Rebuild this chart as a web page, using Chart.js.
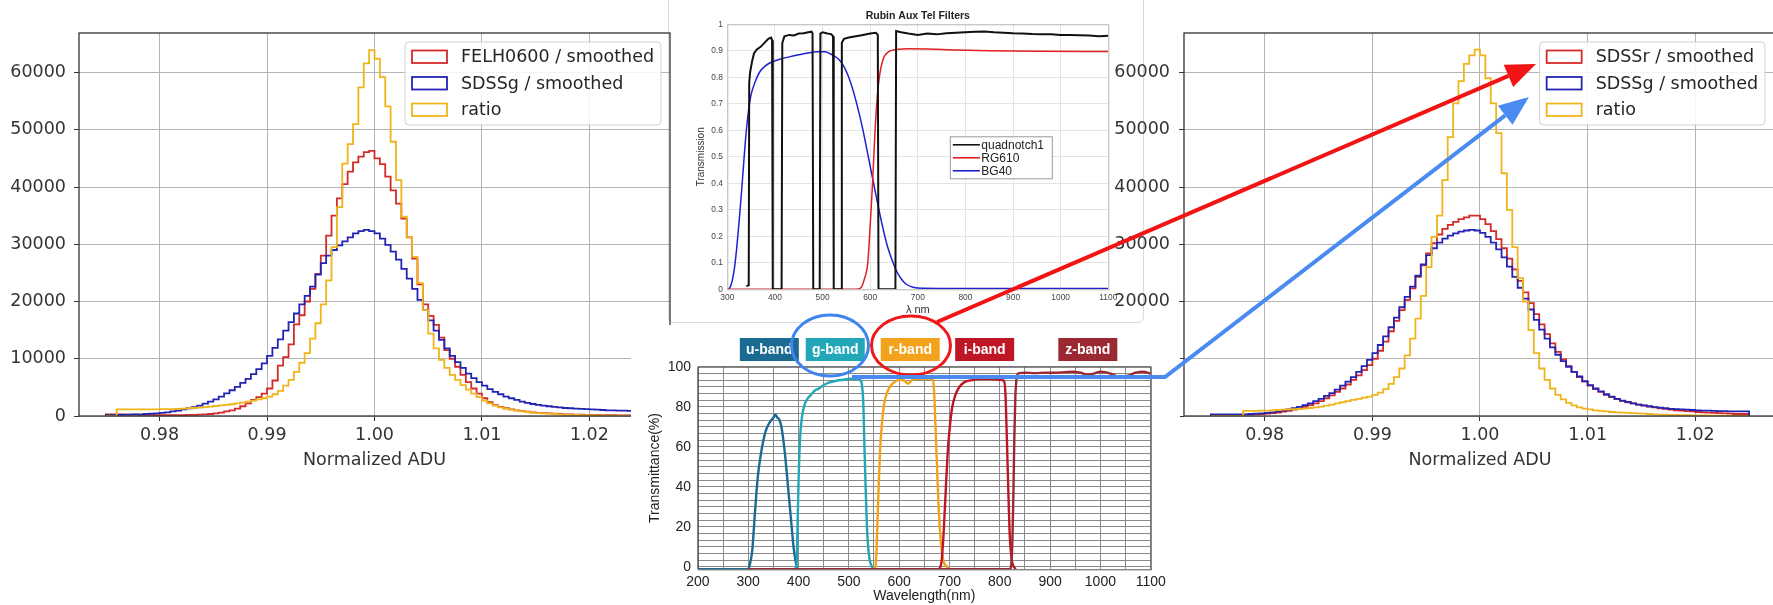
<!DOCTYPE html>
<html>
<head>
<meta charset="utf-8">
<script src="https://cdn.jsdelivr.net/npm/chart.js@4.4.1/dist/chart.umd.min.js"></script>
<style>
  html, body { margin: 0; padding: 0; background: #fff; }
  body { position: relative; width: 1773px; height: 605px; overflow: hidden; }
  .panel { position: absolute; }
  canvas { display: block; }
</style>
</head>
<body>
<div class="panel" id="pTop" style="left:668px;top:-8px;width:474px;height:329px;background:#fff;border:1px solid #dadada;border-radius:6px;z-index:1"><canvas id="cTop" width="474" height="329"></canvas></div>
<div class="panel" style="left:0;top:0;width:680px;height:480px;z-index:2"><canvas id="cLeft" width="680" height="480"></canvas></div>
<div class="panel" style="left:1100px;top:0;width:690px;height:480px;z-index:3"><canvas id="cRight" width="690" height="480"></canvas></div>
<div class="panel" style="left:631px;top:325px;width:549px;height:280px;background:#fff;z-index:4"><canvas id="cBottom" width="549" height="280"></canvas></div>
<svg class="panel" id="marks" style="left:0;top:0;z-index:5" width="1773" height="605"></svg>

<script>
// ---------------- histogram data (counts per bin) ----------------
const binStart = 0.975;
const binWidth = 0.0005;
const histTicksX = [0.98, 0.99, 1.00, 1.01, 1.02];
const histTicksY = [0, 10000, 20000, 30000, 40000, 50000, 60000];

// left panel
const felhCounts = [
  300,300,300,300,250,250,250,200,200,200,
  150,150,150,150,150,150,200,200,250,300,
  350,450,600,800,1000,1300,1700,2200,2800,3300,
  3900,4800,6200,8800,10300,12500,16000,17600,20000,22200,
  24800,28000,31500,35000,38000,40500,42700,44300,45300,46100,
  46300,45000,44000,41800,39400,37100,34500,31200,27500,23000,
  19500,17500,15900,13700,11500,10000,8600,7200,5900,4800,
  3900,3100,2400,1900,1600,1350,1150,1000,850,750,
  650,550,500,450,400,350,300,300,250,250,
  200,200,200,150,150,150,100,100,100,100
];
const sdssgCountsA = [
  150,150,200,200,250,250,300,300,350,400,
  450,550,650,800,950,1150,1350,1550,1800,2150,
  2500,2900,3400,3950,4500,5100,5800,6500,7300,8200,
  9200,10500,11900,13400,14900,16400,17900,19500,21000,22600,
  24700,26700,28000,29000,29800,30500,31200,31900,32300,32500,
  32300,31900,31000,29900,28700,27300,25700,24000,22200,20300,
  18500,16700,14900,13300,11800,10500,9400,8400,7400,6600,
  5900,5300,4700,4200,3800,3400,3100,2800,2500,2300,
  2100,1950,1800,1700,1600,1500,1400,1350,1300,1250,
  1200,1150,1100,1050,1000,1000,950,950,900,900
];
const ratioCountsA = [
  0,0,0,1150,1150,1150,1150,1150,1150,1150,
  1150,1200,1200,1200,1250,1300,1350,1400,1450,1550,
  1650,1750,1850,1950,2050,2200,2350,2500,2700,2900,
  3100,3400,3800,4400,5300,6300,7700,9300,11000,13500,
  16200,19500,23700,29500,36500,44100,47500,51000,57400,61600,
  63900,62400,59200,54100,47900,41200,34800,31200,27800,23200,
  18500,14400,11800,9800,8400,7200,6300,5400,4600,3900,
  3300,2700,2200,1800,1500,1300,1100,950,800,700,
  600,500,450,400,350,300,250,200,200,150,
  150,100,100,100,50,50,50,0,0,0
];

// right panel
const sdssrCounts = [
  200,200,200,200,200,200,200,250,250,300,
  350,400,500,600,750,900,1100,1300,1600,1900,
  2200,2600,3100,3600,4200,4800,5500,6300,7100,8000,
  8900,10000,11400,13000,14800,16600,18500,20300,22300,24300,
  26300,28400,30200,31700,32700,33400,33900,34400,34700,35000,
  35000,34400,33500,32300,30900,29300,27500,25600,23600,21600,
  19700,17800,16000,14300,12700,11200,9900,8700,7700,6800,
  6000,5300,4700,4200,3700,3300,2950,2650,2400,2200,
  2000,1800,1650,1500,1350,1250,1100,1000,950,850,
  800,700,650,600,550,500,450,400,350,350
];
const sdssgCountsB = [
  300,300,300,300,300,300,300,300,350,400,
  450,550,650,800,950,1150,1350,1600,1900,2200,
  2600,3000,3500,4000,4600,5300,6000,6800,7700,8700,
  9800,11000,12400,13900,15500,17200,19000,20800,22600,24500,
  26500,28100,29300,30300,31000,31500,31900,32200,32400,32500,
  32400,32000,31300,30300,29100,27700,26100,24300,22400,20500,
  18600,16800,15100,13500,12000,10700,9600,8600,7700,6900,
  6100,5400,4800,4300,3800,3400,3000,2700,2450,2200,
  2000,1850,1700,1550,1450,1350,1250,1200,1150,1100,
  1050,1000,950,950,900,850,850,800,800,800
];
const ratioCountsB = [
  0,0,0,0,0,0,0,900,900,900,
  950,950,1000,1050,1100,1150,1200,1250,1300,1400,
  1500,1650,1800,2000,2200,2400,2600,2800,3000,3200,
  3400,3700,4100,4700,5600,6800,8300,10600,13500,17000,
  21000,26000,31300,35000,41200,48700,54600,58500,61500,63000,
  64000,63000,59000,54600,49400,42400,36000,29500,24100,20000,
  15000,11000,8300,6300,4800,3700,2900,2300,1850,1500,
  1300,1150,1000,900,800,700,650,600,550,500,
  450,400,350,300,250,250,200,200,150,150,
  100,100,100,50,50,50,0,0,0,0
];

// ---------------- Rubin Aux Tel filter curves ----------------
const auxTicksX = [300, 400, 500, 600, 700, 800, 900, 1000, 1100];
const auxTicksY = [0, 0.1, 0.2, 0.3, 0.4, 0.5, 0.6, 0.7, 0.8, 0.9, 1];
const quadnotchNm = [340,345,346,348,352,356,362,370,378,386,392,394,395.5,414,415.5,420,430,440,450,460,470,477,479,480.5,494,495.5,500,510,518,522,523.5,539,540.5,545,555,570,585,600,612,616,617.5,653,654.5,665,680,700,720,740,760,780,800,820,840,860,880,900,920,940,960,980,1000,1020,1040,1060,1080,1100];
const quadnotchT  = [0.012,0.015,0.78,0.82,0.86,0.89,0.905,0.915,0.93,0.945,0.95,0.94,0,0,0.93,0.955,0.96,0.958,0.965,0.966,0.97,0.972,0.965,0,0,0.965,0.97,0.965,0.963,0.955,0,0,0.93,0.945,0.95,0.955,0.96,0.965,0.968,0.96,0,0,0.975,0.97,0.965,0.96,0.965,0.962,0.966,0.968,0.97,0.972,0.973,0.97,0.968,0.966,0.965,0.963,0.962,0.962,0.96,0.96,0.959,0.958,0.955,0.957];
const rg610Nm = [300,570,580,588,595,600,605,610,615,620,625,630,640,655,680,720,780,850,950,1100];
const rg610T  = [0,0,0.005,0.04,0.1,0.24,0.4,0.59,0.73,0.81,0.855,0.88,0.898,0.905,0.908,0.907,0.903,0.9,0.898,0.897];
const bg40Nm = [300,305,310,315,320,325,330,335,340,345,350,358,368,380,390,410,430,450,470,490,505,515,525,535,545,555,565,575,585,595,605,615,625,635,645,655,665,675,690,710,800,1100];
const bg40T  = [0,0.005,0.03,0.08,0.16,0.26,0.37,0.49,0.6,0.68,0.735,0.78,0.82,0.843,0.855,0.868,0.877,0.885,0.892,0.896,0.896,0.89,0.88,0.866,0.84,0.8,0.745,0.677,0.6,0.51,0.42,0.33,0.245,0.17,0.115,0.07,0.04,0.02,0.008,0.004,0.003,0.003];

// ---------------- ugriz band transmittance (%) ----------------
const bandNames = ['u-band', 'g-band', 'r-band', 'i-band', 'z-band'];
const uNm = [200,300,304,308,312,316,320,325,330,335,340,345,350,354,358,362,366,370,374,378,382,386,390,394,398,410];
const uT  = [-1.2,-1.2,2,8,22,36,47,56,63,68,71,73,74.5,76,74.5,73.5,70,63,54,43,32,21,10,3,-1.2,-1.2];
const gNm = [390,396,398,400,403,407,412,418,425,432,440,448,460,475,490,505,515,522,526,529,531,534,537,541,546,552];
const gT  = [-1.2,0,20,42,64,75,81,84,86,88,89,90.5,92,93,93.5,94,94,93.5,91,80,60,35,15,4,0,-1.2];
const rNm = [548,553,556,559,562,566,570,576,583,592,600,610,618,624,632,645,660,667,670,673,676,679,683,688,695,700];
const rT  = [-1.2,0,15,38,58,72,81,87,90.5,92.5,93.5,93,91.5,93,94,94,94,93.5,85,65,45,27,12,3,0,-1.2];
const iNm = [680,684,688,692,696,700,705,712,720,730,745,760,780,800,808,811,814,817,820,824,828,832];
const iT  = [-1.2,2,15,35,55,68,79,86,90,92.3,93.3,93.8,93.8,93.5,93,88,65,38,15,3,0,-1.2];
const zNm = [300,820,824,827,829,831,834,838,850,870,890,910,930,945,960,975,990,1000,1012,1025,1040,1055,1070,1085,1100];
const zT  = [-1.2,-1.2,5,35,65,85,95,96.8,97,96.8,97,97,97.3,97.5,97,96,96.8,97.5,97.2,96,94.8,95.5,97,97.5,96.5];
const bandTicksX = [200, 300, 400, 500, 600, 700, 800, 900, 1000, 1100];
const bandTicksY = [0, 20, 40, 60, 80, 100];

// ---------------- helpers ----------------
function stepPoints(counts) {
  const end = binStart + counts.length * binWidth;
  const pts = [{ x: binStart, y: 0 }];
  counts.forEach((c, i) => pts.push({ x: binStart + i * binWidth, y: c }));
  pts.push({ x: end, y: counts[counts.length - 1] });
  pts.push({ x: end, y: 0 });
  return pts;
}
function pairs(xs, ys) { return xs.map((x, i) => ({ x, y: ys[i] })); }
function fixedTicks(values) { return scale => { scale.ticks = values.map(v => ({ value: v })); }; }
function roundRect(ctx, x, y, w, h, r) {
  ctx.beginPath();
  ctx.moveTo(x + r, y);
  ctx.arcTo(x + w, y, x + w, y + h, r);
  ctx.arcTo(x + w, y + h, x, y + h, r);
  ctx.arcTo(x, y + h, x, y, r);
  ctx.arcTo(x, y, x + w, y, r);
  ctx.closePath();
}

const HIST_FONT = 'DejaVu Sans';
const RED = '#d42a2a', BLUE = '#2424b4', GOLD = '#f0b41c';

// frame + inset legend for the histogram panels
const histDecor = {
  id: 'histDecor',
  afterDatasetsDraw(chart, args, opts) {
    const { ctx, chartArea: a } = chart;
    ctx.save();
    ctx.strokeStyle = '#333';
    ctx.lineWidth = 1.3;
    ctx.strokeRect(a.left, a.top, a.right - a.left, a.bottom - a.top);

    ctx.font = '17.5px "' + HIST_FONT + '"';
    const ds = chart.data.datasets;
    const textW = Math.max(...ds.map(d => ctx.measureText(d.label).width));
    const pad = 7, hl = 35, gap = 14;
    const w = pad + hl + gap + textW + pad;
    const h = 83;
    const x = a.right - opts.rightInset - w;
    const y = a.top + 9;
    roundRect(ctx, x, y, w, h, 4);
    ctx.fillStyle = 'rgba(255,255,255,0.85)';
    ctx.fill();
    ctx.strokeStyle = '#cfcfcf';
    ctx.lineWidth = 1;
    ctx.stroke();
    ds.forEach((d, k) => {
      const cy = y + 14.5 + k * 26.5;
      ctx.strokeStyle = d.borderColor;
      ctx.lineWidth = 1.8;
      ctx.strokeRect(x + pad, cy - 6, hl, 12.5);
      ctx.fillStyle = '#262626';
      ctx.textBaseline = 'middle';
      ctx.textAlign = 'left';
      ctx.fillText(d.label, x + pad + hl + gap, cy + 1);
    });
    ctx.restore();
  }
};

function histChart(id, labels, series, yWidth, padRight, yPad, rightInset) {
  const colors = [RED, BLUE, GOLD];
  return new Chart(document.getElementById(id), {
    type: 'line',
    data: {
      datasets: series.map((s, i) => ({
        label: labels[i],
        data: stepPoints(s),
        stepped: 'after',
        borderColor: colors[i],
        backgroundColor: 'rgba(0,0,0,0)',
        borderWidth: 1.8,
        pointRadius: 0,
        fill: false,
        order: 3 - i
      }))
    },
    options: {
      responsive: false,
      animation: false,
      layout: { padding: { top: 33, right: padRight, left: 0, bottom: 0 } },
      plugins: { legend: { display: false }, tooltip: { enabled: false }, histDecor: { rightInset } },
      scales: {
        x: {
          type: 'linear', min: 0.9725, max: 1.0275,
          afterBuildTicks: fixedTicks(histTicksX),
          afterFit: s => { s.height = 64; },
          grid: { color: '#b4b4b4', lineWidth: 1, tickColor: '#333', tickLength: 5 },
          border: { display: false },
          ticks: { autoSkip: false, maxRotation: 0, padding: 3.5, color: '#333',
                   font: { family: HIST_FONT, size: 17.5 }, callback: v => v.toFixed(2) },
          title: { display: true, text: 'Normalized ADU', color: '#333',
                   font: { family: HIST_FONT, size: 17.5 }, padding: { top: 0, bottom: 9.5 } }
        },
        y: {
          type: 'linear', min: 0, max: 66900,
          afterBuildTicks: fixedTicks(histTicksY),
          afterFit: s => { s.width = yWidth; },
          grid: { color: '#b4b4b4', lineWidth: 1, tickColor: '#333', tickLength: 5 },
          border: { display: false },
          ticks: { padding: yPad, color: '#333', font: { family: HIST_FONT, size: 17.5 },
                   callback: v => String(v) }
        }
      }
    },
    plugins: [histDecor]
  });
}

histChart('cLeft', ['FELH0600 / smoothed', 'SDSSg / smoothed', 'ratio'],
          [felhCounts, sdssgCountsA, ratioCountsA], 79, 10, 8, 9);
histChart('cRight', ['SDSSr / smoothed', 'SDSSg / smoothed', 'ratio'],
          [sdssrCounts, sdssgCountsB, ratioCountsB], 84, 14, 9, 11);

// ---------------- Rubin Aux Tel Filters ----------------
const auxDecor = {
  id: 'auxDecor',
  afterDatasetsDraw(chart) {
    const { ctx, chartArea: a } = chart;
    ctx.save();
    ctx.strokeStyle = '#bdbdbd';
    ctx.lineWidth = 1;
    ctx.strokeRect(a.left + 0.5, a.top + 0.5, a.right - a.left, a.bottom - a.top);
    // legend
    const x = a.left + 222.5, y = a.top + 112, w = 102, h = 42;
    ctx.fillStyle = '#fff';
    ctx.fillRect(x, y, w, h);
    ctx.strokeStyle = '#9a9a9a';
    ctx.strokeRect(x + 0.5, y + 0.5, w, h);
    ctx.font = '12px "Liberation Sans"';
    ctx.textBaseline = 'middle';
    chart.data.datasets.forEach((d, k) => {
      const cy = y + 8.5 + k * 13;
      ctx.strokeStyle = d.borderColor;
      ctx.lineWidth = 1.6;
      ctx.beginPath();
      ctx.moveTo(x + 3, cy); ctx.lineTo(x + 30, cy); ctx.stroke();
      ctx.fillStyle = '#222';
      ctx.fillText(d.label, x + 31.5, cy + 0.5);
    });
    ctx.restore();
  }
};

new Chart(document.getElementById('cTop'), {
  type: 'line',
  data: {
    datasets: [
      { label: 'quadnotch1', data: pairs(quadnotchNm, quadnotchT), borderColor: '#111', borderWidth: 2, pointRadius: 0, tension: 0 },
      { label: 'RG610', data: pairs(rg610Nm, rg610T), borderColor: '#e02020', borderWidth: 1.5, pointRadius: 0, cubicInterpolationMode: 'monotone' },
      { label: 'BG40', data: pairs(bg40Nm, bg40T), borderColor: '#2020d0', borderWidth: 1.5, pointRadius: 0, cubicInterpolationMode: 'monotone' }
    ]
  },
  options: {
    responsive: false,
    animation: false,
    layout: { padding: { top: 0, right: 34.7, left: 0, bottom: 0 } },
    plugins: {
      legend: { display: false }, tooltip: { enabled: false },
      title: { display: true, text: 'Rubin Aux Tel Filters', fullSize: false, color: '#222',
               font: { family: 'Liberation Sans', size: 10.5, weight: 'bold' }, padding: { top: 16.7, bottom: 2 } }
    },
    scales: {
      x: {
        type: 'linear', min: 300, max: 1100,
        afterBuildTicks: fixedTicks(auxTicksX),
        afterFit: s => { s.height = 32.7; },
        grid: { color: '#e4e4e4', drawTicks: false },
        border: { display: false },
        ticks: { autoSkip: false, maxRotation: 0, padding: 3.4, color: '#444', font: { family: 'Liberation Sans', size: 8.4 },
                 callback: v => String(v) },
        title: { display: true, text: 'λ nm', color: '#333', font: { family: 'Liberation Sans', size: 11 }, padding: { top: 0, bottom: 5.4 } }
      },
      y: {
        type: 'linear', min: 0, max: 1,
        afterBuildTicks: fixedTicks(auxTicksY),
        afterFit: s => { s.width = 58.3; },
        grid: { color: '#e4e4e4', drawTicks: false },
        border: { display: false },
        ticks: { padding: 4.3, color: '#444', font: { family: 'Liberation Sans', size: 8.4 }, callback: v => String(Math.round(v * 10) / 10) },
        title: { display: true, text: 'Transmission', color: '#333', font: { family: 'Liberation Sans', size: 10 }, padding: { top: 26.7, bottom: 0 } }
      }
    }
  },
  plugins: [auxDecor]
});

// ---------------- ugriz transmittance ----------------
const bandColors = ['#1b6a92', '#22a7b8', '#f3a21c', '#bf1626', '#9c2831'];
const bandLabelCenters = [342, 473, 622, 770, 975]; // nm under each label tag

const bandDecor = {
  id: 'bandDecor',
  afterDatasetsDraw(chart) {
    const { ctx, chartArea: a, scales: { x } } = chart;
    ctx.save();
    ctx.strokeStyle = '#555';
    ctx.lineWidth = 1;
    ctx.strokeRect(a.left + 0.5, a.top + 0.5, a.right - a.left, a.bottom - a.top);
    ctx.font = 'bold 14px "Liberation Sans"';
    ctx.textAlign = 'center';
    ctx.textBaseline = 'middle';
    bandNames.forEach((name, k) => {
      const cx = x.getPixelForValue(bandLabelCenters[k]);
      const bw = 59, bh = 23, by = a.top - 28.7;
      ctx.fillStyle = bandColors[k];
      ctx.fillRect(cx - bw / 2, by, bw, bh);
      ctx.fillStyle = '#fff';
      ctx.fillText(name, cx, by + bh / 2 + 0.5);
    });
    ctx.restore();
  }
};

const minorY = [];
for (let v = 100; v > -1; v -= 100 / 30) minorY.push(Math.round(v * 100) / 100);
const minorX = [];
for (let v = 200; v <= 1100; v += 50) minorX.push(v);

new Chart(document.getElementById('cBottom'), {
  type: 'line',
  data: {
    datasets: [
      { label: 'z-band', data: pairs(zNm, zT), borderColor: bandColors[4] },
      { label: 'i-band', data: pairs(iNm, iT), borderColor: bandColors[3] },
      { label: 'r-band', data: pairs(rNm, rT), borderColor: bandColors[2] },
      { label: 'g-band', data: pairs(gNm, gT), borderColor: bandColors[1] },
      { label: 'u-band', data: pairs(uNm, uT), borderColor: bandColors[0] }
    ].map(d => Object.assign(d, { borderWidth: 2.4, pointRadius: 0, cubicInterpolationMode: 'monotone' }))
  },
  options: {
    responsive: false,
    animation: false,
    layout: { padding: { top: 41.7, right: 29.3, left: 0, bottom: 0 } },
    plugins: { legend: { display: false }, tooltip: { enabled: false } },
    scales: {
      x: {
        type: 'linear', min: 200, max: 1100,
        afterBuildTicks: fixedTicks(minorX),
        afterFit: s => { s.height = 35.7; },
        grid: { color: '#8a8a8a', drawTicks: false },
        border: { display: false },
        ticks: { autoSkip: false, maxRotation: 0, padding: 4, color: '#222', font: { family: 'Liberation Sans', size: 14 },
                 callback: v => (bandTicksX.includes(v) ? String(v) : '') },
        title: { display: true, text: 'Wavelength(nm)', color: '#222', font: { family: 'Liberation Sans', size: 14 }, padding: { top: 0, bottom: 0 } }
      },
      y: {
        type: 'linear', min: -1.3, max: 100,
        afterBuildTicks: fixedTicks(minorY),
        afterFit: s => { s.width = 66.9; },
        grid: { color: '#8a8a8a', drawTicks: false },
        border: { display: false },
        ticks: { autoSkip: false, padding: 6.9, color: '#222', font: { family: 'Liberation Sans', size: 14 },
                 callback: v => { const r = Math.round(v); return (Math.abs(v - r) < 0.05 && bandTicksY.includes(r)) ? String(r) : ''; } },
        title: { display: true, text: 'Transmittance(%)', color: '#222', font: { family: 'Liberation Sans', size: 14 }, padding: { top: 16.1, bottom: 0 } }
      }
    }
  },
  plugins: [bandDecor]
});

// ---------------- callout rings and arrows ----------------
(function drawCallouts() {
  const svg = document.getElementById('marks');
  const NS = 'http://www.w3.org/2000/svg';
  function el(tag, attrs) {
    const e = document.createElementNS(NS, tag);
    for (const k in attrs) e.setAttribute(k, attrs[k]);
    svg.appendChild(e);
    return e;
  }
  function arrow(points, color, width, headLen, headHalf) {
    const n = points.length;
    const [tx, ty] = points[n - 1];
    const [px, py] = points[n - 2];
    const len = Math.hypot(tx - px, ty - py);
    const ux = (tx - px) / len, uy = (ty - py) / len;
    const bx = tx - ux * headLen, by = ty - uy * headLen;
    const line = points.slice(0, n - 1).concat([[bx, by]]);
    el('polyline', { points: line.map(p => p.join(',')).join(' '), fill: 'none', stroke: color,
                     'stroke-width': width, 'stroke-linejoin': 'miter' });
    el('polygon', { points: [[tx, ty], [bx - uy * headHalf, by + ux * headHalf], [bx + uy * headHalf, by - ux * headHalf]]
                     .map(p => p.join(',')).join(' '), fill: color });
  }
  el('ellipse', { cx: 830, cy: 345.5, rx: 38.5, ry: 30.5, fill: 'none', stroke: '#3d84ef', 'stroke-width': 3 });
  el('ellipse', { cx: 911, cy: 345.5, rx: 39.5, ry: 29.5, fill: 'none', stroke: '#f01818', 'stroke-width': 3 });
  arrow([[937, 322], [1536, 64]], '#f21414', 4, 30, 12);
  arrow([[852, 377], [1165, 377], [1529, 97]], '#4a8bf2', 4, 30, 12);
})();
</script>
</body>
</html>
